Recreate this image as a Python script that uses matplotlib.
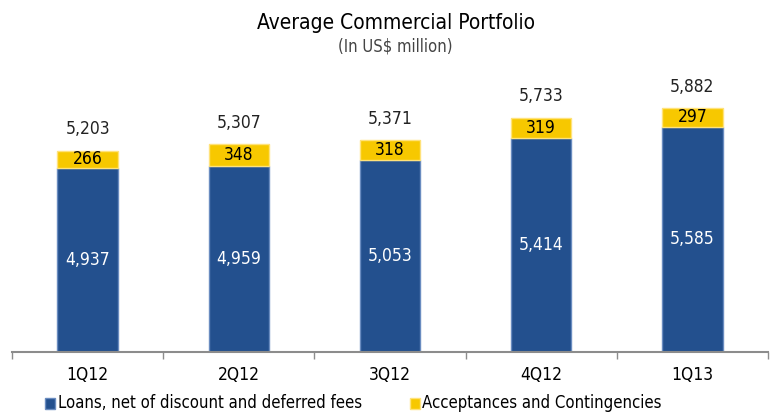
import matplotlib
matplotlib.use('Agg')
import matplotlib.pyplot as plt
from matplotlib.patches import Rectangle

plt.rcParams['font.family'] = ['DejaVu Sans']
plt.rcParams['font.stretch'] = 'condensed'

quarters = ['1Q12', '2Q12', '3Q12', '4Q12', '1Q13']
loans = [4937, 4959, 5053, 5414, 5585]
acceptances = [266, 348, 318, 319, 297]
totals = [5203, 5307, 5371, 5733, 5882]
legend_labels = ['Loans, net of discount and deferred fees', 'Acceptances and Contingencies']

blue = '#23508e'
yellow = '#f7c800'
grey = '#8c8c8c'

fig = plt.figure(figsize=(7.7, 4.17), dpi=100)
ax = fig.add_axes([12 / 770, 65 / 417, 756 / 770, 272 / 417])

x = range(len(quarters))
ax.bar(x, loans, width=0.4, color=blue, edgecolor='#6a8cc0', linewidth=1.0)
ax.bar(x, acceptances, width=0.4, bottom=loans, color=yellow, edgecolor='#ffe27a', linewidth=1.0)

ax.set_ylim(2000, 6330)
ax.set_xlim(-0.5, len(quarters) - 0.5)

for i in x:
    ax.text(i, (2000 + loans[i]) / 2, f'{loans[i]:,}', ha='center', va='center',
            color='white', fontsize=12.5)
    ax.text(i, loans[i] + acceptances[i] / 2, f'{acceptances[i]:,}', ha='center', va='center',
            color='black', fontsize=12.5)
    ax.annotate(f'{totals[i]:,}', (i, totals[i]), xytext=(0, 9), textcoords='offset points',
                ha='center', va='bottom', fontsize=12.5, color='#222222')

for s in ['top', 'right', 'left']:
    ax.spines[s].set_visible(False)
ax.spines['bottom'].set_color(grey)
ax.spines['bottom'].set_linewidth(1.5)
ax.set_yticks([])
ax.set_xticks(list(x))
ax.set_xticklabels(quarters, fontsize=12.5)
ax.tick_params(axis='x', length=0, pad=10)
ax.set_xticks([i - 0.5 for i in range(len(quarters) + 1)], minor=True)
ax.tick_params(axis='x', which='minor', length=5, color=grey, width=1)

fig.text(0.514, 0.945, 'Average Commercial Portfolio', ha='center', va='center',
         fontsize=15, color='black', fontweight='medium')
fig.text(0.514, 0.888, '(In US$ million)', ha='center', va='center',
         fontsize=12, color='#444444')

# legend drawn by hand so the two entries sit where the reference has them
for (sx, tx), col, ec, lab in zip([(45, 58), (410, 422)], [blue, yellow],
                                  ['#6a8cc0', '#ffe27a'], legend_labels):
    fig.patches.append(Rectangle((sx / 770, 8 / 417), 10 / 770, 11 / 417,
                                 transform=fig.transFigure, facecolor=col, edgecolor=ec))
    fig.text(tx / 770, 14 / 417, lab, ha='left', va='center', fontsize=12)

fig.savefig('out.png', dpi=100)
